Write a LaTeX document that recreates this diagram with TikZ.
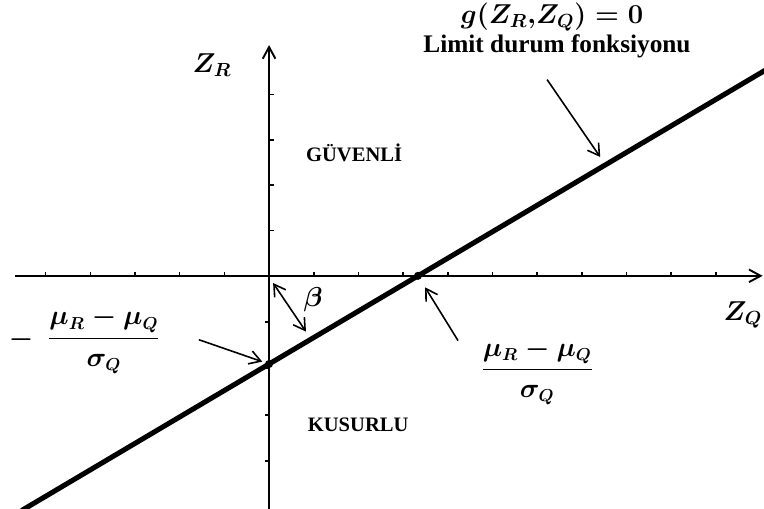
\documentclass[tikz,border=0pt]{standalone}
\usepackage{amsmath}
\usepackage{fontspec}
\setmainfont{Liberation Serif}
\usetikzlibrary{arrows.meta}

\tikzset{
  >={Straight Barb[length=2.5mm,width=3mm]},
  axis/.style={line width=1.2pt, -{Straight Barb[length=2.6mm,width=2.8mm]}},
  axtick/.style={line width=1pt},
  pointer/.style={line width=1pt},
  region/.style={font=\fontsize{13}{15}\selectfont\bfseries},
  mathlbl/.style={font=\fontsize{17}{19}\selectfont\boldmath},
  fraclbl/.style={font=\fontsize{16}{18}\selectfont\boldmath},
}

\begin{document}
\begin{tikzpicture}[scale=1.0]
        \useasboundingbox (-5.98,-5.18) rectangle (11.0,6.13);

        % Axes
        \coordinate (xstart) at (-5.64,0);
        \coordinate (xend) at (10.97,0);
        \coordinate (ystart) at (0,-5.18);
        \coordinate (yend) at (0,5.13);
        \draw[axis] (xstart) -- (xend);
        \draw[axis] (ystart) -- (yend);

        % Ticks (above the Z_Q axis, right/left of the Z_R axis)
        \foreach \x in {-5,...,-1,1,2,...,10}
          \draw[axtick] (\x*0.993,0) -- ++(0,0.09);
        \foreach \y in {1,...,4}
          \draw[axtick] (0,\y*1.007) -- ++(0.1,0);
        \foreach \y in {-1,...,-4}
          \draw[axtick] (0,\y*1.03) -- ++(-0.1,0);

        % Limit state line g = 0
        \coordinate (zq0) at (3.31,0);
        \coordinate (zr0) at (0,-1.96);
        \coordinate (lsw) at (-5.5,-5.217);
        \coordinate (lne) at (11.05,4.583);
        \draw[line width=3.2pt] (lsw) -- (lne);
        \fill (zq0) circle [radius=0.09];
        \fill (zr0) circle [radius=0.09];

        % Axis labels
        \node[mathlbl] (zqlabel) at (10.53,-0.87) {$Z_Q$};
        \node[mathlbl] (zrlabel) at (-1.27,4.69) {$Z_R$};

        % Regions
        \node[region] (safe) at (1.89,2.73) {GÜVENLİ};
        \node[region] (fail) at (1.98,-3.31) {KUSURLU};

        % Reliability index
        \coordinate (betastart) at (0.09,-0.16);
        \coordinate (betaend) at (0.82,-1.24);
        \draw[pointer, <->] (betastart) -- (betaend);
        \node[mathlbl] (beta) at (0.98,-0.53) {$\beta$};

        % Intercept on Z_R
        \node[mathlbl] (minus) at (-5.51,-1.42) {$-$};
        \node[fraclbl] (lfrac) at (-3.67,-1.44) {$\dfrac{\mu_R-\mu_Q}{\sigma_Q}$};
        \coordinate (lptr) at (-1.56,-1.42);
        \draw[pointer, ->, shorten >=1.6mm] (lptr) -- (zr0);

        % Intercept on Z_Q
        \node[fraclbl] (rfrac) at (5.96,-2.13) {$\dfrac{\mu_R-\mu_Q}{\sigma_Q}$};
        \coordinate (rptr) at (4.2,-1.44);
        \draw[pointer, ->, shorten >=3mm] (rptr) -- (zq0);

        % Limit state function label
        \node[mathlbl] (gfun) at (6.29,5.76) {$g(Z_R{,}Z_Q)=0$};
        \node[font=\fontsize{16}{18}\selectfont\bfseries] (gname) at (6.4,5.09) {Limit durum fonksiyonu};
        \coordinate (gptr) at (6.18,4.36);
        \coordinate (gtip) at (7.36,2.64);
        \draw[pointer, ->] (gptr) -- (gtip);

\end{tikzpicture}
\end{document}
